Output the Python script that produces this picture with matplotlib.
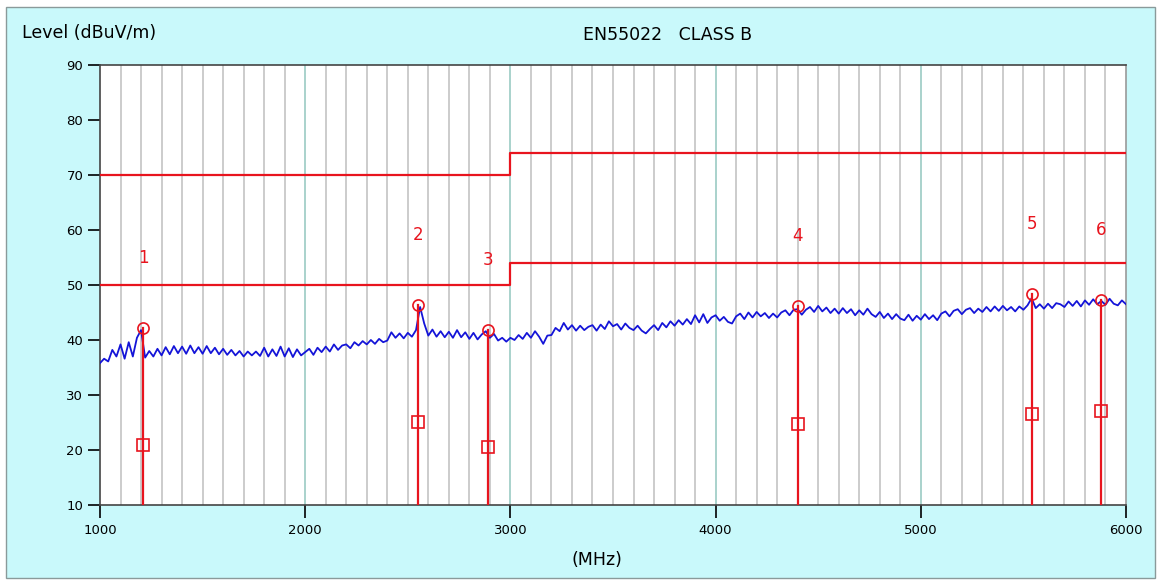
import numpy as np
import matplotlib.pyplot as plt
from matplotlib.patches import Rectangle

plt.rcParams['font.family'] = ['DejaVu Sans']

# measured trace, 20 MHz steps from 1000 to 6000 MHz
level = [
    35.8, 36.6, 36.1, 38.2, 37.0, 39.2, 36.6, 39.6, 37.0, 40.4,
    41.8, 36.8, 38.0, 37.0, 38.4, 37.2, 38.7, 37.4, 38.9, 37.6,
    38.8, 37.5, 39.0, 37.6, 38.7, 37.5, 38.9, 37.6, 38.6, 37.4,
    38.4, 37.3, 38.2, 37.2, 38.0, 37.0, 37.9, 37.2, 37.9, 37.1,
    38.6, 37.0, 38.3, 37.1, 38.8, 37.0, 38.5, 36.9, 38.3, 37.2,
    37.8, 38.4, 37.3, 38.6, 37.8, 38.8, 37.9, 39.2, 38.2, 39.0,
    39.2, 38.5, 39.6, 39.0, 39.8, 39.2, 40.0, 39.3, 40.2, 39.6,
    39.9, 41.4, 40.4, 41.2, 40.3, 41.3, 40.6, 41.8, 46.0, 43.0,
    40.8, 41.9, 40.6, 41.6, 40.5, 41.5, 40.4, 41.8, 40.5, 41.4,
    40.2, 41.3, 40.1, 41.0, 41.6, 40.4, 41.1, 39.9, 40.4, 39.7,
    40.4, 40.0, 40.9, 40.2, 41.3, 40.4, 41.6, 40.6, 39.3, 40.8,
    40.9, 42.2, 41.6, 43.1, 41.9, 42.7, 41.7, 42.6, 41.8, 42.4,
    42.7, 41.7, 42.8, 42.0, 43.4, 42.5, 42.9, 41.9, 43.0, 42.2,
    41.8, 42.6, 41.7, 41.2, 42.0, 42.7, 41.8, 43.1, 42.3, 43.4,
    42.6, 43.6, 42.8, 43.8, 42.9, 44.5, 43.2, 44.7, 43.1, 44.1,
    44.5, 43.5, 44.2, 43.3, 43.0, 44.3, 44.8, 43.8, 45.0, 44.1,
    45.1, 44.3, 44.9, 44.0, 44.8, 44.1, 45.0, 45.4, 44.5, 45.5,
    45.6, 44.6, 45.5, 46.0, 45.1, 46.2, 45.2, 45.9, 44.9, 45.7,
    44.8, 45.8, 44.9, 45.6, 44.5, 45.4, 44.6, 45.7, 44.7, 44.2,
    45.1, 44.0, 44.8, 43.8, 44.7, 43.9, 43.6, 44.6, 43.5, 44.4,
    43.7, 44.7, 43.8, 44.5, 43.6, 44.8, 45.2, 44.3, 45.3, 45.6,
    44.7, 45.5, 45.8, 44.9, 45.7, 45.1, 46.0, 45.2, 46.1, 45.3,
    46.2, 45.4, 46.0, 45.2, 46.1, 45.5, 46.3, 47.6, 45.8, 46.5,
    45.7, 46.6, 45.8, 46.7, 46.5, 46.0, 47.0, 46.2, 47.1, 46.1,
    47.2, 46.4, 47.4, 46.5, 47.1, 46.4, 47.5, 46.6, 46.3, 47.2,
    46.5,
]
freq = np.arange(1000, 6001, 20)

# EN55022 class B limits (peak / average)
lim_freq = [1000, 3000, 3000, 6000]
lim_peak = [70, 70, 74, 74]
lim_avg = [50, 50, 54, 54]

# final measurement points
mk_freq = [1210, 2550, 2890, 4400, 5540, 5880]
mk_peak = [42.2, 46.4, 41.8, 46.2, 48.4, 47.3]
mk_avg = [20.9, 25.1, 20.5, 24.7, 26.5, 27.1]
mk_label = ['1', '2', '3', '4', '5', '6']

red = '#e8141e'
blue = '#1414d8'

fig = plt.figure(figsize=(11.6, 5.83), dpi=100)
fig.patch.set_facecolor('white')
fig.patches.append(Rectangle((6/1160, 5/583), 1149/1160, 571/583, transform=fig.transFigure,
                             facecolor='#c9f9fb', edgecolor='#8a9a9a', lw=1, zorder=-5))

ax = fig.add_axes([100/1160, 1-505/583, 1026/1160, 440/583])
ax.set_facecolor('white')

for f in range(1100, 6000, 100):
    c = '#a9d2cc' if f % 1000 == 0 else '#cccccc'
    ax.axvline(f, color=c, lw=1.4, zorder=1)

ax.plot(freq, level, color=blue, lw=1.3, zorder=3)
ax.plot(lim_freq, lim_peak, color=red, lw=1.6, zorder=4)
ax.plot(lim_freq, lim_avg, color=red, lw=1.6, zorder=4)

for f, pk, av, lb in zip(mk_freq, mk_peak, mk_avg, mk_label):
    ax.plot([f, f], [10, pk], color=red, lw=1.6, zorder=4)
    ax.plot(f, pk, 'o', ms=8, mfc='none', mec=red, mew=1.2, zorder=5)
    ax.plot(f, av, 's', ms=8, mfc='none', mec=red, mew=1.2, zorder=5)
    ax.text(f, pk + 12.7, lb, color=red, fontsize=12, ha='center', va='center', zorder=5)

ax.set_xlim(1000, 6000)
ax.set_ylim(10, 90)
ax.set_xticks(range(1000, 6001, 1000))
ax.set_yticks(range(10, 91, 10))
ax.tick_params(axis='x', direction='out', length=9, width=1.2, pad=5, labelsize=9.5)
ax.tick_params(axis='y', direction='out', length=9, width=1.2, pad=3, labelsize=9.5)
for s in ax.spines.values():
    s.set_color('#444444')
    s.set_linewidth(1.2)
ax.spines['right'].set_color('#999999')

fig.text(22/1160, 1-33/583, 'Level (dBuV/m)', fontsize=12.5, ha='left', va='center')
fig.text(668/1160, 1-35/583, 'EN55022   CLASS B', fontsize=12.5, ha='center', va='center')
fig.text(597/1160, 1-560/583, '(MHz)', fontsize=12.5, ha='center', va='center')

plt.savefig('out.png', dpi=100, facecolor=fig.get_facecolor())
